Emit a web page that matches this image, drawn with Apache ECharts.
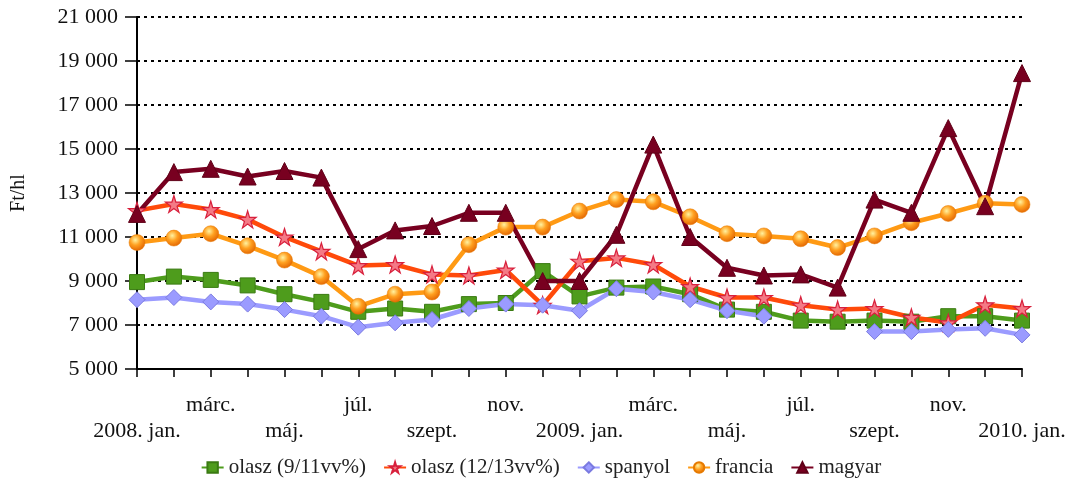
<!DOCTYPE html>
<html><head><meta charset="utf-8">
<script src="https://cdn.jsdelivr.net/npm/echarts@6/dist/echarts.min.js"></script>
<style>html,body{margin:0;padding:0;background:#fff}#c{width:1082px;height:488px}</style>
</head><body><div id="c"></div>
<script>
var categories = ['2008. jan.','febr.','márc.','ápr.','máj.','jún.','júl.','aug.','szept.','okt.','nov.','dec.',
  '2009. jan.','febr.','márc.','ápr.','máj.','jún.','júl.','aug.','szept.','okt.','nov.','dec.','2010. jan.'];
var olasz911 = [8950,9200,9050,8800,8400,8050,7600,7750,7600,7950,8000,9450,8300,8700,8750,8400,7700,7600,7200,7150,7200,7150,7400,7400,7200];
var olasz1213 = [12200,12500,12250,11800,11000,10350,9700,9750,9300,9250,9500,7900,9900,10050,9750,8750,8250,8250,7900,7700,7750,7350,7100,7920,7750];
var spanyol = [8150,8250,8050,7950,7700,7400,6900,7100,7250,7750,7950,7900,7650,8650,8500,8150,7650,7400,null,null,6700,6700,6800,6850,6550];
var francia = [10750,10950,11150,10600,9950,9200,7850,8400,8500,10650,11450,11450,12180,12700,12600,11920,11150,11050,10920,10520,11050,11650,12070,12530,12480];
var magyar = [12050,13950,14100,13750,14000,13700,10450,11300,11500,12100,12100,9000,9000,11100,15200,11000,9600,9250,9300,8700,12700,12100,15950,12400,18450];
var yTicks = {min:5000, max:21000, step:2000};
var seriesNames = ['olasz (9/11vv%)','olasz (12/13vv%)','spanyol','francia','magyar'];

var FONT = 'Liberation Serif';
var star = 'path://M50,0 L61,35 L98,35 L68,57 L79,91 L50,70 L21,91 L32,57 L2,35 L39,35 Z';
var orangeBall = {type:'radial',x:0.4,y:0.35,r:0.7,colorStops:[{offset:0,color:'#fff2a0'},{offset:0.45,color:'#ffa020'},{offset:1,color:'#e06000'}]};

function mk(name, data, color, lineColor, symbol, size, itemStyle){
  return {name:name,type:'line',data:data,symbol:symbol,symbolSize:size,
    lineStyle:{color:lineColor,width:4.5},itemStyle:itemStyle,color:color,
    emphasis:{disabled:true},animation:false,connectNulls:false};
}
var chart = echarts.init(document.getElementById('c'));
chart.setOption({
  animation:false,
  grid:{left:137,right:60,top:17,bottom:119},
  legend:{bottom:5,left:'center',itemWidth:22,itemHeight:13,itemGap:17,
    textStyle:{fontFamily:FONT,fontSize:21,color:'#222'},
    data:seriesNames},
  xAxis:{type:'category',data:categories,boundaryGap:false,
    axisLine:{lineStyle:{color:'#000',width:2}},
    axisTick:{interval:0,length:8,lineStyle:{color:'#000',width:1.5}},
    axisLabel:{interval:1,margin:23,fontFamily:FONT,fontSize:22,color:'#111',lineHeight:26,
      formatter:function(v,i){return (i%4===0)?(' \n'+v):(v+'\n ');}},
    splitLine:{show:false}},
  yAxis:{type:'value',min:yTicks.min,max:yTicks.max,interval:yTicks.step,
    name:'Ft/hl',nameLocation:'middle',nameGap:108,nameRotate:90,
    nameTextStyle:{fontFamily:FONT,fontSize:20,color:'#111'},
    axisLine:{show:true,lineStyle:{color:'#000',width:2}},
    axisTick:{show:true,length:12,lineStyle:{color:'#000',width:1.5}},
    axisLabel:{margin:19,fontFamily:FONT,fontSize:22,color:'#111',
      formatter:function(v){return String(v).replace(/\B(?=(\d{3})+(?!\d))/g,' ');}},
    splitLine:{show:true,lineStyle:{color:'#000',width:2,type:[3,4]}}},
  series:[
    mk(seriesNames[0],olasz911,'#4e9c1c','#4e9c1c','rect',15,{color:'#4e9c1c',borderColor:'#3a7a12',borderWidth:1}),
    mk(seriesNames[1],olasz1213,'#f04a50','#ff4a0a',star,17,{color:'#f47a86',borderColor:'#d8203c',borderWidth:1.2}),
    mk(seriesNames[2],spanyol,'#9b9bff','#9b9bff','diamond',16,{color:'#9b9bff',borderColor:'#7a7ae0',borderWidth:1}),
    mk(seriesNames[3],francia,'#ff9a14','#ff9a14','circle',16,{color:orangeBall,borderColor:'#e67a00',borderWidth:0.5}),
    mk(seriesNames[4],magyar,'#780020','#780020','triangle',17,{color:'#780020',borderColor:'#600018',borderWidth:1})
  ]
});
</script></body></html>
